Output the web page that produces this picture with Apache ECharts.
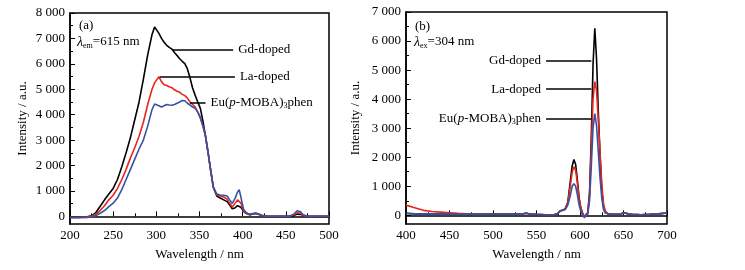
<!DOCTYPE html>
<html>
<head>
<meta charset="utf-8">
<script src="https://cdn.jsdelivr.net/npm/echarts@6/dist/echarts.min.js"></script>
<style>
  html, body { margin: 0; padding: 0; background: #fff; }
  #chart { width: 745px; height: 270px; }
</style>
</head>
<body>
<div id="chart"></div>
<script>
// (a) excitation spectra, lambda_em = 615 nm
var exWl = [200, 210, 220, 225, 230, 235, 240, 245, 250, 255, 260, 265, 270, 275, 280, 285, 290, 295, 298, 300,
  303, 306, 309, 312, 315, 318, 321, 324, 327, 330, 333, 336, 339, 342, 345, 348, 351, 354, 357, 360,
  363, 366, 370, 374, 378, 382, 385, 388, 391, 394, 396, 398, 401, 404, 408, 412, 415, 418, 422, 430,
  440, 450, 456, 460, 463, 465, 467, 470, 475, 480, 490, 500];
var exGd = [-30, -30, -20, 20, 150, 400, 650, 880, 1100, 1450, 1950, 2500, 3100, 3800, 4500, 5400, 6350, 7150, 7450, 7380,
  7200, 7000, 6850, 6730, 6650, 6580, 6450, 6330, 6200, 6100, 6010, 5800, 5450, 5050, 4760, 4500, 4250, 3750, 3150, 2500,
  1800, 1150, 800, 720, 650, 580, 450, 300, 330, 420, 440, 360, 200, 120, 60, 90, 110, 80, 30, 0,
  0, 0, 10, 40, 90, 100, 80, 30, 0, 0, 0, 0];
var exLa = [-40, -40, -20, 10, 80, 230, 420, 650, 830, 1100, 1450, 1850, 2300, 2700, 3150, 3700, 4400, 5000, 5250, 5350,
  5490, 5300, 5180, 5150, 5100, 5060, 4980, 4920, 4880, 4800, 4750, 4650, 4500, 4400, 4300, 4100, 3850, 3550, 3150, 2500,
  1800, 1150, 850, 800, 760, 680, 520, 370, 500, 650, 700, 520, 220, 130, 70, 100, 120, 90, 30, 0,
  0, 0, 20, 70, 140, 160, 120, 40, 0, 0, 0, 0];
var exEu = [-50, -50, -40, -20, 30, 120, 230, 380, 520, 720, 1050, 1450, 1850, 2250, 2650, 3000, 3550, 4200, 4420, 4400,
  4350, 4300, 4350, 4400, 4380, 4370, 4400, 4450, 4500, 4560, 4550, 4450, 4380, 4300, 4250, 4100, 3900, 3550, 3150, 2500,
  1800, 1150, 880, 840, 830, 800, 650, 510, 700, 950, 1050, 750, 280, 150, 80, 110, 130, 100, 40, 0,
  0, 0, 30, 110, 220, 250, 180, 60, 0, 0, 0, 0];

// (b) emission spectra, lambda_ex = 304 nm
var emWl = [400, 410, 420, 430, 440, 450, 460, 470, 480, 490, 500, 510, 520, 530, 535, 538, 541, 545, 550, 560,
  570, 574, 577, 580, 583, 586, 589, 591, 593, 595, 597, 599, 601, 603, 605, 607, 609, 611, 613, 615,
  617, 619, 621, 623, 625, 627, 629, 632, 636, 640, 645, 650, 653, 656, 660, 670, 680, 690, 700];
var emGd = [70, 50, 40, 40, 40, 40, 40, 40, 40, 40, 40, 40, 40, 40, 50, 70, 50, 40, 30, 20,
  20, 50, 150, 180, 220, 450, 1200, 1700, 1920, 1750, 1200, 600, 250, 80, -50, -110, 100, 800, 2700, 5200,
  6440, 5400, 3600, 2100, 900, 300, 120, 50, 40, 30, 30, 80, 70, 40, 30, 20, 30, 50, 80];
var emLa = [350, 260, 170, 130, 110, 90, 70, 55, 45, 40, 35, 35, 35, 35, 50, 70, 50, 40, 30, 20,
  20, 50, 140, 170, 210, 420, 1050, 1480, 1670, 1550, 1100, 550, 230, 70, -50, -110, 90, 700, 2300, 4000,
  4600, 4300, 3300, 2200, 1100, 400, 150, 50, 40, 30, 30, 80, 70, 40, 30, 20, 30, 50, 80];
var emEu = [60, 50, 40, 40, 40, 40, 40, 40, 40, 40, 40, 40, 40, 40, 50, 80, 50, 40, 30, 20,
  20, 50, 140, 170, 200, 350, 700, 1000, 1090, 1000, 700, 350, 130, 0, -80, -120, 50, 500, 1700, 3000,
  3500, 3100, 2200, 1300, 600, 200, 80, 50, 40, 30, 30, 90, 70, 40, 30, 20, 30, 50, 80];

var names = ['Gd-doped', 'La-doped', 'Eu(p-MOBA)3phen'];
var colors = ['#000000', '#e8261c', '#3552a6'];

var exTicks = [0, 1000, 2000, 3000, 4000, 5000, 6000, 7000, 8000];
var exMinor = [500, 1500, 2500, 3500, 4500, 5500, 6500, 7500];
var emTicks = [0, 1000, 2000, 3000, 4000, 5000, 6000, 7000];
var emMinor = [500, 1500, 2500, 3500, 4500, 5500, 6500];

var FONT = '"Liberation Serif", "DejaVu Serif", serif';

function pairs(xs, ys) {
  return xs.map(function (x, i) { return [x, ys[i]]; });
}
function thousands(v) {
  return String(v).replace(/\B(?=(\d{3})+$)/g, ' ');
}

var euRich = {
  a: { fontFamily: FONT, fontSize: 13, color: '#000' },
  i: { fontFamily: FONT, fontSize: 13, fontStyle: 'italic', color: '#000' },
  s: { fontFamily: FONT, fontSize: 8, color: '#000', padding: [7, 0, 0, 0] }
};
var euText = '{a|Eu(}{i|p}{a|-MOBA)}{s|3}{a|phen}';

function leader(x1, x2, y, text, pos) {
  return {
    silent: true,
    symbol: ['none', 'none'],
    lineStyle: { color: '#000', type: 'solid', width: 1.5 },
    label: {
      show: true, position: pos, distance: 5, formatter: text,
      fontFamily: FONT, fontSize: 13, color: '#000', rich: euRich
    },
    data: [[{ coord: [x1, y] }, { coord: [x2, y] }]]
  };
}

function xAxisOf(grid, min, max) {
  return {
    type: 'value', gridIndex: grid, min: min, max: max, interval: 50,
    name: 'Wavelength / nm', nameLocation: 'middle', nameGap: 24,
    nameTextStyle: { fontFamily: FONT, fontSize: 13, color: '#000' },
    axisLine: { lineStyle: { color: '#000', width: 1.5 } },
    axisTick: { inside: true, length: 5, lineStyle: { color: '#000' } },
    minorTick: { show: true, splitNumber: 2, length: 3, lineStyle: { color: '#000' } },
    axisLabel: { fontFamily: FONT, fontSize: 13, color: '#000', margin: 5 },
    splitLine: { show: false }
  };
}
function yAxisOf(grid, max, ticks) {
  return {
    type: 'value', gridIndex: grid, min: -300, max: max,
    name: 'Intensity / a.u.', nameLocation: 'middle', nameGap: grid === 0 ? 41 : 44,
    nameTextStyle: { fontFamily: FONT, fontSize: 13, color: '#000' },
    axisLine: { show: true, lineStyle: { color: '#000', width: 1.5 } },
    axisTick: { inside: true, length: 5, customValues: ticks, lineStyle: { color: '#000' } },
    axisLabel: { customValues: ticks, formatter: thousands, fontFamily: FONT, fontSize: 13, color: '#000', margin: 5 },
    splitLine: { show: false }
  };
}
function minorYAxis(grid, max, ticks) {
  return {
    type: 'value', gridIndex: grid, min: -300, max: max, position: 'left',
    axisLine: { show: false },
    axisTick: { show: true, inside: true, length: 3, customValues: ticks, lineStyle: { color: '#000' } },
    axisLabel: { show: false },
    splitLine: { show: false }
  };
}

function line(name, data, color, xi, yi, mark) {
  var s = {
    name: name, type: 'line', xAxisIndex: xi, yAxisIndex: yi,
    data: data, showSymbol: false, symbol: 'none',
    lineStyle: { color: color, width: 1.6 }, itemStyle: { color: color },
    animation: false, z: 3
  };
  if (mark) s.markLine = mark;
  return s;
}

var myChart = echarts.init(document.getElementById('chart'));

var option = {
  backgroundColor: '#fff',
  animation: false,
  grid: [
    { left: 70, top: 13, width: 259, height: 211, show: true, borderColor: '#000', borderWidth: 1.5 },
    { left: 406, top: 12, width: 261, height: 212, show: true, borderColor: '#000', borderWidth: 1.5 }
  ],
  xAxis: [xAxisOf(0, 200, 500), xAxisOf(1, 400, 700)],
  yAxis: [
    yAxisOf(0, 8000, exTicks), yAxisOf(1, 7000, emTicks),
    minorYAxis(0, 8000, exMinor), minorYAxis(1, 7000, emMinor)
  ],
  series: [
    line(names[0], pairs(exWl, exGd), colors[0], 0, 0, leader(319, 389, 6560, 'Gd-doped', 'end')),
    line(names[1], pairs(exWl, exLa), colors[1], 0, 0, leader(304, 391, 5510, 'La-doped', 'end')),
    line(names[2], pairs(exWl, exEu), colors[2], 0, 0, leader(339, 357, 4480, euText, 'end')),
    line(names[0], pairs(emWl, emGd), colors[0], 1, 1, leader(561, 613, 5320, 'Gd-doped', 'start')),
    line(names[1], pairs(emWl, emLa), colors[1], 1, 1, leader(561, 613, 4340, 'La-doped', 'start')),
    line(names[2], pairs(emWl, emEu), colors[2], 1, 1, leader(561, 613, 3330, euText, 'start'))
  ],
  graphic: [
    { type: 'text', left: 79, top: 19, style: { text: '(a)', font: '13px ' + FONT, fill: '#000' } },
    { type: 'text', left: 77, top: 35, style: {
      text: '{l|λ}{s|em}{n|=615 nm}',
      rich: {
        l: { fontFamily: FONT, fontSize: 14, fontStyle: 'italic', fill: '#000' },
        s: { fontFamily: FONT, fontSize: 8, fill: '#000', padding: [7, 0, 0, 0] },
        n: { fontFamily: FONT, fontSize: 13, fill: '#000' }
      } } },
    { type: 'text', left: 415, top: 20, style: { text: '(b)', font: '13px ' + FONT, fill: '#000' } },
    { type: 'text', left: 414, top: 35, style: {
      text: '{l|λ}{s|ex}{n|=304 nm}',
      rich: {
        l: { fontFamily: FONT, fontSize: 14, fontStyle: 'italic', fill: '#000' },
        s: { fontFamily: FONT, fontSize: 8, fill: '#000', padding: [7, 0, 0, 0] },
        n: { fontFamily: FONT, fontSize: 13, fill: '#000' }
      } } }
  ]
};

myChart.setOption(option);
</script>
</body>
</html>
